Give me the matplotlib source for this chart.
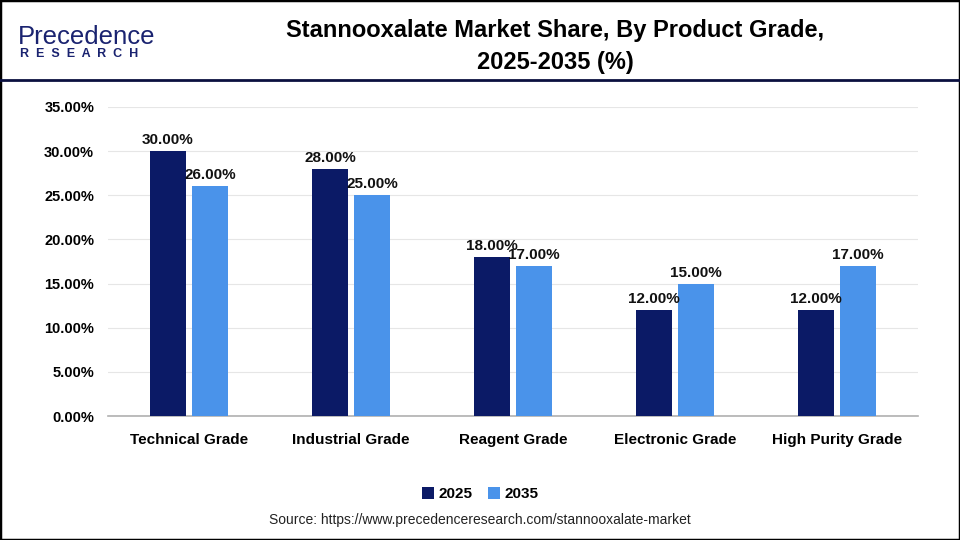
import matplotlib.pyplot as plt
from matplotlib.patches import Rectangle
from matplotlib.lines import Line2D
import numpy as np

categories = ['Technical Grade', 'Industrial Grade', 'Reagent Grade', 'Electronic Grade', 'High Purity Grade']
share_2025 = [30.0, 28.0, 18.0, 12.0, 12.0]
share_2035 = [26.0, 25.0, 17.0, 15.0, 17.0]
years = ['2025', '2035']
colors = ['#0b1a66', '#4a93ea']

plt.rcParams['font.family'] = ['Liberation Sans', 'DejaVu Sans']

fig = plt.figure(figsize=(9.6, 5.4), dpi=100)
ax = fig.add_axes([108/960, 1-416/540, 810/960, 309/540])

x = np.arange(len(categories))
w = 0.222
gap = 0.037
b1 = ax.bar(x - (w+gap)/2, share_2025, w, color=colors[0], label=years[0], zorder=3)
b2 = ax.bar(x + (w+gap)/2, share_2035, w, color=colors[1], label=years[1], zorder=3)

for bars, vals in ((b1, share_2025), (b2, share_2035)):
    for r, v in zip(bars, vals):
        ax.text(r.get_x() + r.get_width()/2, v + 0.45, f'{v:.2f}%', ha='center', va='bottom',
                fontsize=11, fontweight='bold', color='#111111')

ax.set_xlim(-0.5, len(categories) - 0.5)
ax.set_ylim(0, 35)
ax.set_yticks(np.arange(0, 36, 5))
ax.set_yticklabels([f'{t:.2f}%' for t in np.arange(0, 36, 5)], fontsize=10.5, fontweight='bold')
ax.set_xticks(x)
ax.set_xticklabels(categories, fontsize=11, fontweight='bold')
ax.tick_params(axis='y', length=0, pad=10)
ax.tick_params(axis='x', length=0, pad=12)
ax.grid(axis='y', color='#e6e6e6', linewidth=0.8, zorder=0)
for s in ['top', 'right', 'left']:
    ax.spines[s].set_visible(False)
ax.spines['bottom'].set_color('#b0b0b0')
ax.spines['bottom'].set_linewidth(1.2)

ax.legend(loc='center', bbox_to_anchor=(480/960, 1-494/540), bbox_transform=fig.transFigure,
          ncol=2, frameon=False, handlelength=0.8, handleheight=0.8, handletextpad=0.3,
          columnspacing=1.0, prop={'weight': 'bold', 'size': 11})

# header
fig.text(555/960, 1-30/540, 'Stannooxalate Market Share, By Product Grade,', ha='center', va='center',
         fontsize=17, fontweight='bold')
fig.text(555/960, 1-62/540, '2025-2035 (%)', ha='center', va='center',
         fontsize=17, fontweight='bold')
fig.text(18/960, 1-37/540, 'Precedence', ha='left', va='center', fontsize=18.5, color='#1a2370')
fig.text(20/960, 1-54/540, 'R  E  S  E  A  R  C  H', ha='left', va='center', fontsize=9,
         fontweight='bold', color='#1a2370')
fig.add_artist(Line2D([0, 1], [1-80/540, 1-80/540], color='#0b1040', linewidth=2))
fig.add_artist(Rectangle((0, 0), 1, 1, transform=fig.transFigure, fill=False,
                         edgecolor='black', linewidth=2.5))

fig.text(480/960, 1-520/540, 'Source: https://www.precedenceresearch.com/stannooxalate-market',
         ha='center', va='center', fontsize=10, color='#222222')

fig.savefig('out.png', dpi=100)
